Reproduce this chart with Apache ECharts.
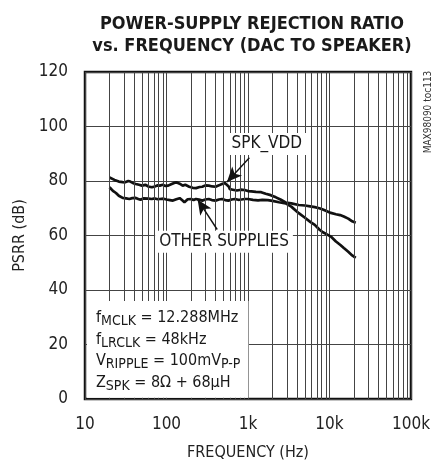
<!DOCTYPE html>
<html>
<head>
<meta charset="utf-8">
<script src="https://cdn.jsdelivr.net/npm/echarts@6/dist/echarts.min.js"></script>
<style>
html,body{margin:0;padding:0;background:#fff;}
#c{width:433px;height:466px;}
</style>
</head>
<body>
<div id="c"></div>
<script>
// ---- data ----
const titleLines = ['POWER-SUPPLY REJECTION RATIO', 'vs. FREQUENCY (DAC TO SPEAKER)'];
const xTickLabels = {10: '10', 100: '100', 1000: '1k', 10000: '10k', 100000: '100k'};
const yTicks = [0, 20, 40, 60, 80, 100, 120];

const spkFreq = [20, 21, 23, 26, 29, 31, 34, 36, 39, 42, 46, 50, 55, 60, 66, 72, 78, 83, 90, 97,
  105, 114, 124, 132, 145, 158, 170, 190, 210, 230, 255, 275, 300, 330, 365, 400, 440, 480, 520, 550,
  580, 600, 650, 730, 820, 910, 1000, 1100, 1250, 1450, 1650, 1900, 2200, 2500, 2900, 3400, 4200, 5000,
  5800, 6600, 7500, 8300, 9300, 10400, 12000, 13500, 15000, 17000, 19000, 21000];
const spkDb = [81.3, 81.0, 80.4, 79.8, 79.6, 79.5, 80.0, 79.8, 79.2, 78.9, 78.6, 78.3, 78.6, 78.0, 77.7, 78.0, 78.4, 78.3, 78.6, 78.2,
  78.3, 78.8, 79.3, 79.5, 79.0, 78.3, 78.6, 77.9, 77.5, 77.4, 77.8, 77.9, 78.4, 78.3, 78.0, 77.9, 78.4, 78.9, 79.3, 79.5,
  78.0, 77.0, 76.8, 76.5, 76.8, 76.7, 76.3, 76.2, 76.0, 75.9, 75.3, 74.8, 74.0, 73.2, 72.1, 71.8, 71.2, 71.0,
  70.7, 70.4, 70.0, 69.5, 68.9, 68.3, 67.8, 67.5, 67.0, 66.2, 65.2, 64.7];

const othFreq = [20, 21, 22, 24, 26, 29, 32, 35, 38, 42, 45, 48, 52, 55, 60, 66, 72, 78, 83, 92,
  100, 110, 120, 132, 145, 155, 166, 175, 182, 200, 215, 230, 250, 275, 300, 330, 360, 400, 440, 480,
  525, 575, 630, 690, 760, 830, 920, 1000, 1150, 1330, 1500, 1750, 2000, 2400, 2900, 3400, 4200, 5000,
  5800, 6600, 7500, 8300, 9300, 10400, 12000, 13500, 15000, 17000, 19000, 21000];
const othDb = [77.7, 77.2, 76.4, 75.6, 74.6, 73.8, 73.6, 73.4, 73.7, 73.8, 73.4, 73.1, 73.6, 73.8, 73.5, 73.4, 73.6, 73.3, 73.4, 73.5,
  73.2, 73.0, 72.8, 73.3, 73.7, 73.0, 72.2, 72.6, 73.3, 73.4, 73.0, 73.4, 73.2, 72.8, 73.2, 73.4, 73.0, 72.8, 73.2, 73.4,
  73.0, 72.8, 73.2, 73.4, 73.1, 73.2, 73.4, 73.4, 73.1, 72.9, 73.1, 73.0, 72.7, 72.2, 71.8, 70.6, 68.2, 66.5,
  65.0, 63.9, 62.2, 61.2, 60.4, 59.6, 57.8, 56.6, 55.4, 54.0, 52.7, 51.8];

// callout labels and arrows (in data units)
const spkLabel = {text: 'SPK_VDD', at: [1700, 93.6], from: [1040, 88.5], to: [552, 79.6]};
const othLabel = {text: 'OTHER SUPPLIES', at: [508, 57.7], from: [419, 62.2], to: [241, 73.2]};

const FONT = '"Liberation Sans Narrow", "DejaVu Sans Condensed", "Liberation Sans", sans-serif';

// minor log grid positions
const minorX = [];
[10, 100, 1000, 10000].forEach(d => { for (let k = 2; k <= 9; k++) minorX.push(d * k); });

const zip = (xs, ys) => xs.map((x, i) => [x, ys[i]]);

const chart = echarts.init(document.getElementById('c'), null, {renderer: 'canvas'});

const arrowLine = (lab) => ({
  silent: true, symbol: ['none', 'arrow'], symbolSize: [10, 15],
  lineStyle: {color: '#111', width: 1.4, type: 'solid'},
  itemStyle: {color: '#111'},
  label: {show: false},
  data: [[{coord: lab.from}, {coord: lab.to}]]
});
const calloutPoint = (lab) => ({
  silent: true, symbol: 'rect', symbolSize: 0,
  label: {show: true, position: 'inside', formatter: lab.text, color: '#1a1a1a', fontFamily: FONT,
    fontSize: 17, backgroundColor: '#fff', padding: [3, 4, 2, 4]},
  data: [{coord: lab.at}]
});

chart.setOption({
  backgroundColor: '#fff',
  animation: false,
  title: {
    text: titleLines.join('\n'), left: 247, top: 8, textAlign: 'center',
    textStyle: {fontFamily: FONT, fontWeight: 'bold', fontSize: 18, lineHeight: 22, color: '#1a1a1a'}
  },
  grid: {left: 85, top: 72, width: 333, height: 333, show: true, borderColor: '#111', borderWidth: 2.5, backgroundColor: 'transparent'},
  xAxis: {
    type: 'log', logBase: 10, min: 10, max: 100000,
    name: 'FREQUENCY (Hz)', nameLocation: 'middle', nameGap: 46,
    nameTextStyle: {fontFamily: FONT, fontSize: 16, color: '#222'},
    axisLine: {show: false}, axisTick: {show: false},
    axisLabel: {fontFamily: FONT, fontSize: 17, color: '#222', margin: 17, formatter: v => xTickLabels[Math.round(v)] || ''},
    splitLine: {show: true, lineStyle: {color: '#444', width: 1}}
  },
  yAxis: {
    type: 'value', min: 0, max: 120, interval: 20,
    name: 'PSRR (dB)', nameLocation: 'middle', nameGap: 55,
    nameTextStyle: {fontFamily: FONT, fontSize: 16, color: '#222'},
    axisLine: {show: false}, axisTick: {show: false},
    axisLabel: {fontFamily: FONT, fontSize: 17, color: '#222', margin: 17},
    splitLine: {show: true, lineStyle: {color: '#444', width: 1}}
  },
  series: [
    {
      name: 'grid', type: 'line', data: [], z: 1, silent: true,
      markLine: {silent: true, symbol: 'none', animation: false, label: {show: false},
        lineStyle: {color: '#444', width: 1, type: 'solid'},
        data: minorX.map(v => ({xAxis: v}))}
    },
    {
      name: 'SPK_VDD', type: 'line', data: zip(spkFreq, spkDb), z: 3,
      showSymbol: false, symbol: 'none', smooth: false,
      lineStyle: {color: '#111', width: 2.7},
      markLine: arrowLine(spkLabel), markPoint: calloutPoint(spkLabel)
    },
    {
      name: 'OTHER SUPPLIES', type: 'line', data: zip(othFreq, othDb), z: 3,
      showSymbol: false, symbol: 'none', smooth: false,
      lineStyle: {color: '#111', width: 2.7},
      markLine: arrowLine(othLabel), markPoint: calloutPoint(othLabel)
    }
  ],
  graphic: [
    {
      type: 'text', left: 87, top: 301, z: 50,
      style: {
        text: '{n|f}{s|MCLK}{n| = 12.288MHz}\n{n|f}{s|LRCLK}{n| = 48kHz}\n{n|V}{s|RIPPLE}{n| = 100mV}{s|P-P}\n{n|Z}{s|SPK}{n| = 8Ω + 68µH}',
        backgroundColor: '#fff', padding: [6, 8, 4, 9],
        fill: '#1a1a1a', font: '16px ' + FONT,
        rich: {
          n: {fontFamily: FONT, fontSize: 16, lineHeight: 21.7, verticalAlign: 'middle', fill: '#1a1a1a', color: '#1a1a1a'},
          s: {fontFamily: FONT, fontSize: 14, lineHeight: 21.7, height: 15, verticalAlign: 'bottom', fill: '#1a1a1a', color: '#1a1a1a'}
        }
      }
    },
    {
      type: 'text', x: 428, y: 112, rotation: Math.PI / 2, z: 50,
      style: {text: 'MAX98090 toc113', fontFamily: FONT, fontSize: 10, fill: '#333', align: 'center', verticalAlign: 'middle'}
    }
  ]
});
</script>
</body>
</html>
